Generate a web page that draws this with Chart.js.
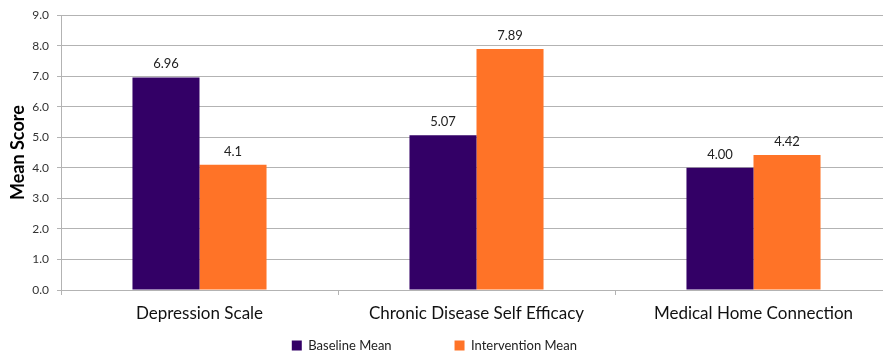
<!DOCTYPE html>
<html>
<head>
<meta charset="utf-8">
<script src="https://cdn.jsdelivr.net/npm/chart.js@4/dist/chart.umd.min.js"></script>
<style>
  html, body { margin: 0; padding: 0; background: #fff; overflow: hidden; }
  #wrap { width: 900px; height: 354px; }
</style>
</head>
<body>
<div id="wrap"><canvas id="scoreChart" width="900" height="354"></canvas></div>
<script>
const categories = ["Depression Scale", "Chronic Disease Self Efficacy", "Medical Home Connection"];
const baselineMean = [6.96, 5.07, 4.00];
const interventionMean = [4.1, 7.89, 4.42];
// labels as printed in the original (one of them has only one decimal)
const baselineText = ["6.96", "5.07", "4.00"];
const interventionText = ["4.1", "7.89", "4.42"];
const yTicks = [0, 1, 2, 3, 4, 5, 6, 7, 8, 9];

const FONT = "Lato, 'Open Sans', sans-serif";

// draws the value above each bar
const valueLabels = {
  id: "valueLabels",
  afterDatasetsDraw(chart) {
    const ctx = chart.ctx;
    ctx.save();
    ctx.font = "13px " + FONT;
    ctx.fillStyle = "#222";
    ctx.textAlign = "center";
    ctx.textBaseline = "bottom";
    chart.data.datasets.forEach((ds, i) => {
      const meta = chart.getDatasetMeta(i);
      meta.data.forEach((bar, j) => {
        ctx.fillText(ds.valueText[j], bar.x, bar.y - 7);
      });
    });
    ctx.restore();
  }
};

new Chart(document.getElementById("scoreChart").getContext("2d"), {
  type: "bar",
  data: {
    labels: categories,
    datasets: [
      {
        label: "Baseline Mean",
        data: baselineMean,
        valueText: baselineText,
        backgroundColor: "#330066",
        categoryPercentage: 0.484,
        barPercentage: 1.0,
      },
      {
        label: "Intervention Mean",
        data: interventionMean,
        valueText: interventionText,
        backgroundColor: "#FF7327",
        categoryPercentage: 0.484,
        barPercentage: 1.0,
      },
    ],
  },
  options: {
    responsive: false,
    animation: false,
    layout: { padding: { top: 15, right: 8, bottom: -8, left: 0 } },
    plugins: {
      tooltip: { enabled: false },
      legend: {
        position: "bottom",
        labels: {
          font: { family: FONT, size: 13 },
          color: "#222",
          boxWidth: 10,
          boxHeight: 10,
          padding: 3,
          generateLabels(chart) {
            const items = Chart.defaults.plugins.legend.labels.generateLabels(chart);
            // wide gap between the entries, and pull the block a bit left
            items[0].text = items[0].text + "\u00A0".repeat(18);
            items[1].text = items[1].text + "\u00A0".repeat(7);
            items.forEach((it) => { it.lineWidth = 0; });
            return items;
          },
        },
      },
    },
    scales: {
      x: {
        grid: {
          offset: true,
          drawOnChartArea: false,
          drawTicks: true,
          tickLength: 5,
          color: "#b3b3b3",
        },
        border: { color: "#b3b3b3" },
        ticks: {
          font: { family: FONT, size: 17 },
          color: "#111",
          padding: 8,
          maxRotation: 0,
        },
        afterFit(scale) { scale.height = 46; },
      },
      y: {
        min: 0,
        max: 9,
        afterBuildTicks(scale) { scale.ticks = yTicks.map((v) => ({ value: v })); },
        grid: { color: "#b3b3b3", tickLength: 4 },
        border: { color: "#b3b3b3" },
        ticks: {
          font: { family: FONT, size: 12 },
          color: "#333",
          padding: 8,
          callback: (v) => Number(v).toFixed(1),
        },
        title: {
          display: true,
          text: "Mean Score",
          font: { family: FONT, size: 18, weight: "bold" },
          color: "#000",
          padding: { top: 7, bottom: 0 },
        },
        afterFit(scale) { scale.width = 61; },
      },
    },
  },
  plugins: [valueLabels],
});
</script>
</body>
</html>
